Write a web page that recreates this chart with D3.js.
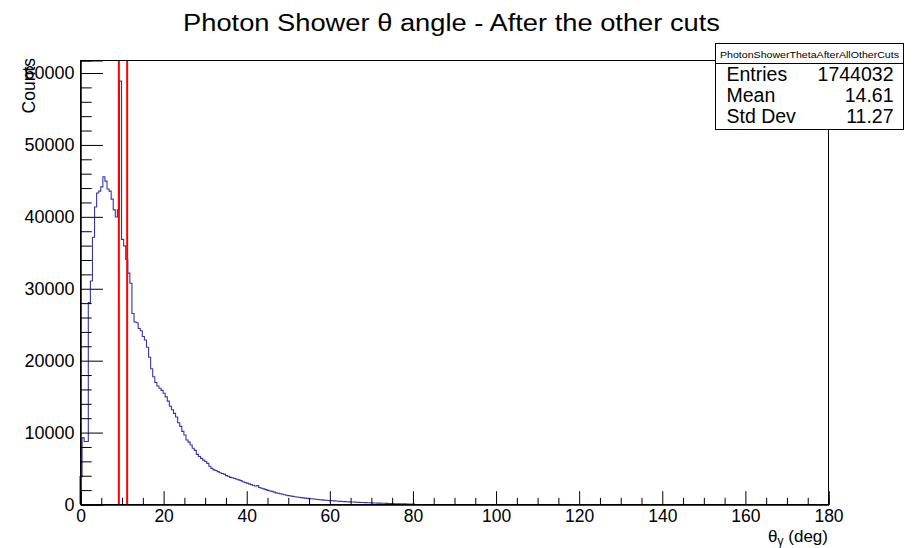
<!DOCTYPE html>
<html>
<head>
<meta charset="utf-8">
<script src="https://cdn.jsdelivr.net/npm/d3@7"></script>
<style>
  html, body { margin: 0; padding: 0; background: #fff; }
  svg { display: block; }
  text { font-family: "Liberation Sans", Arial, Helvetica, sans-serif; fill: #000; }
</style>
</head>
<body>
<svg id="chart" width="913" height="548"></svg>
<script>
// Histogram of the photon shower polar angle, 0.5 degree bins starting at 0 deg
const binWidth = 0.5;
const counts = [
  3800, 9200, 8700, 8700, 28000, 31000, 37100, 41300, 43250, 43500,
  44100, 45500, 44900, 43800, 43500, 42400, 40900, 39900, 40900, 58800,
  36800, 35900, 34000, 32100, 30700, 26500, 25300, 25200, 24400, 24100,
  23300, 22800, 21800, 20400, 18800, 17700, 16900, 16400, 16100, 15800,
  15400, 14900, 14300, 13600, 13100, 12600, 12100, 11300, 10800, 10100,
  9600, 8900, 8600, 8200, 7750, 7450, 6900, 6600, 6350, 6100,
  5900, 5650, 5250, 4950, 4750, 4650, 4500, 4350, 4250, 4150,
  3950, 3850, 3700, 3650, 3550, 3450, 3350, 3250, 3100, 3000,
  2900, 2800, 2700, 2600, 2500, 2550, 2300, 2200, 2100, 2000,
  1900, 1800, 1750, 1650, 1550, 1500, 1420, 1350, 1280, 1220,
  1160, 1110, 1060, 1010, 970, 930, 890, 850, 810, 780,
  750, 720, 690, 660, 630, 600, 570, 540, 520, 495,
  470, 450, 430, 410, 390, 370, 350, 335, 320, 300,
  285, 270, 255, 240, 225, 210, 200, 185, 175, 165,
  155, 145, 135, 125, 115, 105, 95, 85, 70, 60,
  50, 42, 35, 28, 22, 17, 13, 10, 8, 6, 4
];

// Selection window drawn as vertical red lines (deg)
const cutLines = [9.35, 11.35];

// Axis ticks
const xMajorTicks = [0, 20, 40, 60, 80, 100, 120, 140, 160, 180];
const xMinorTicks = [5, 10, 15, 25, 30, 35, 45, 50, 55, 65, 70, 75, 85, 90, 95,
  105, 110, 115, 125, 130, 135, 145, 150, 155, 165, 170, 175];
const yMajorTicks = [0, 10000, 20000, 30000, 40000, 50000, 60000];
const yMinorTicks = [2000, 4000, 6000, 8000, 12000, 14000, 16000, 18000,
  22000, 24000, 26000, 28000, 32000, 34000, 36000, 38000,
  42000, 44000, 46000, 48000, 52000, 54000, 56000, 58000];

// Statistics box contents
const statsName = "PhotonShowerThetaAfterAllOtherCuts";
const statsLabels = ["Entries", "Mean", "Std Dev"];
const statsValues = ["1744032", "14.61", "11.27"];

const titleText = "Photon Shower \u03b8 angle - After the other cuts";

const frame = { left: 80, right: 828, top: 60, bottom: 504 };
const svg = d3.select("#chart");

const x = d3.scaleLinear().domain([0, 180]).range([frame.left, frame.right]);
const yMax = d3.max(counts) * 1.05;
const y = d3.scaleLinear().domain([0, yMax]).range([frame.bottom, frame.top]);

const fw = frame.right - frame.left;
const fh = frame.bottom - frame.top;
const fontStack = "\"Liberation Sans\", Arial, sans-serif";

// Histogram outline (step line)
const path = d3.path();
path.moveTo(x(0), y(0));
counts.forEach((v, i) => {
  path.lineTo(x(i * binWidth), y(v));
  path.lineTo(x((i + 1) * binWidth), y(v));
});
path.lineTo(x(counts.length * binWidth), y(0));

svg.append("path")
  .attr("d", path.toString())
  .attr("fill", "none")
  .attr("stroke", "#3535b0")
  .attr("stroke-width", 1.1);

// Cut lines
svg.selectAll("line.cut").data(cutLines).join("line")
  .attr("class", "cut")
  .attr("x1", d => x(d)).attr("x2", d => x(d))
  .attr("y1", frame.top).attr("y2", frame.bottom)
  .attr("stroke", "#ff0000")
  .attr("stroke-width", 2);

// Frame
svg.append("rect")
  .attr("x", frame.left + 0.5).attr("y", frame.top + 0.5)
  .attr("width", fw).attr("height", fh)
  .attr("fill", "none").attr("stroke", "#000").attr("stroke-width", 1);

// X axis
const xAxisG = svg.append("g").attr("transform", `translate(0.5,${frame.bottom + 0.5})`);
xAxisG.call(d3.axisBottom(x).tickValues(xMajorTicks).tickSize(-0.03 * fh)
  .tickPadding(5).tickFormat(d3.format("d")));
xAxisG.append("g").call(d3.axisBottom(x).tickValues(xMinorTicks).tickSize(-0.015 * fh).tickFormat(""));
xAxisG.selectAll(".domain").attr("stroke", "#000");
xAxisG.selectAll(".tick line").attr("stroke", "#000");
xAxisG.selectAll("text").attr("font-size", 17.5)
  .attr("font-family", fontStack).attr("fill", "#000");

// Y axis
const yAxisG = svg.append("g").attr("transform", `translate(${frame.left + 0.5},0.5)`);
yAxisG.call(d3.axisLeft(y).tickValues(yMajorTicks).tickSize(-0.03 * fw)
  .tickPadding(6).tickFormat(d3.format("d")));
yAxisG.append("g").call(d3.axisLeft(y).tickValues(yMinorTicks).tickSize(-0.015 * fw).tickFormat(""));
yAxisG.selectAll(".domain").attr("stroke", "#000");
yAxisG.selectAll(".tick line").attr("stroke", "#000");
yAxisG.selectAll("text").attr("font-size", 18)
  .attr("font-family", fontStack).attr("fill", "#000");

// Axis titles
svg.append("text")
  .attr("transform", `translate(35,${frame.top - 2}) rotate(-90)`)
  .attr("text-anchor", "end")
  .attr("font-size", 17.5)
  .text("Counts");

const xt = svg.append("text")
  .attr("x", frame.right)
  .attr("y", 541.5)
  .attr("text-anchor", "end")
  .attr("font-size", 17);
xt.append("tspan").text("\u03b8");
xt.append("tspan").attr("font-size", 12).attr("dy", 3).text("\u03b3");
xt.append("tspan").attr("dy", -3).text(" (deg)");

// Title (wide Helvetica-style rendering)
svg.append("text")
  .attr("x", 183)
  .attr("y", 31)
  .attr("font-size", 23)
  .attr("textLength", 537).attr("lengthAdjust", "spacingAndGlyphs")
  .text(titleText);

// Statistics box
const box = { x: 715.5, y: 43.5, w: 188, h: 86, head: 20 };
svg.append("rect")
  .attr("x", box.x).attr("y", box.y).attr("width", box.w).attr("height", box.h)
  .attr("fill", "#fff").attr("stroke", "#000").attr("stroke-width", 1);
svg.append("line")
  .attr("x1", box.x).attr("x2", box.x + box.w)
  .attr("y1", box.y + box.head).attr("y2", box.y + box.head)
  .attr("stroke", "#000");
svg.append("text")
  .attr("x", box.x + box.w / 2 - 89.5).attr("y", box.y + 14)
  .attr("font-size", 9.5)
  .attr("textLength", 179).attr("lengthAdjust", "spacingAndGlyphs")
  .text(statsName);

const rowY = [80.5, 102, 123];
statsLabels.forEach((lab, i) => {
  svg.append("text").attr("x", 726.5).attr("y", rowY[i])
    .attr("font-size", 19.5)
    .text(lab);
  svg.append("text").attr("x", 893.5).attr("y", rowY[i])
    .attr("text-anchor", "end")
    .attr("font-size", 19.5)
    .text(statsValues[i]);
});
</script>
</body>
</html>
